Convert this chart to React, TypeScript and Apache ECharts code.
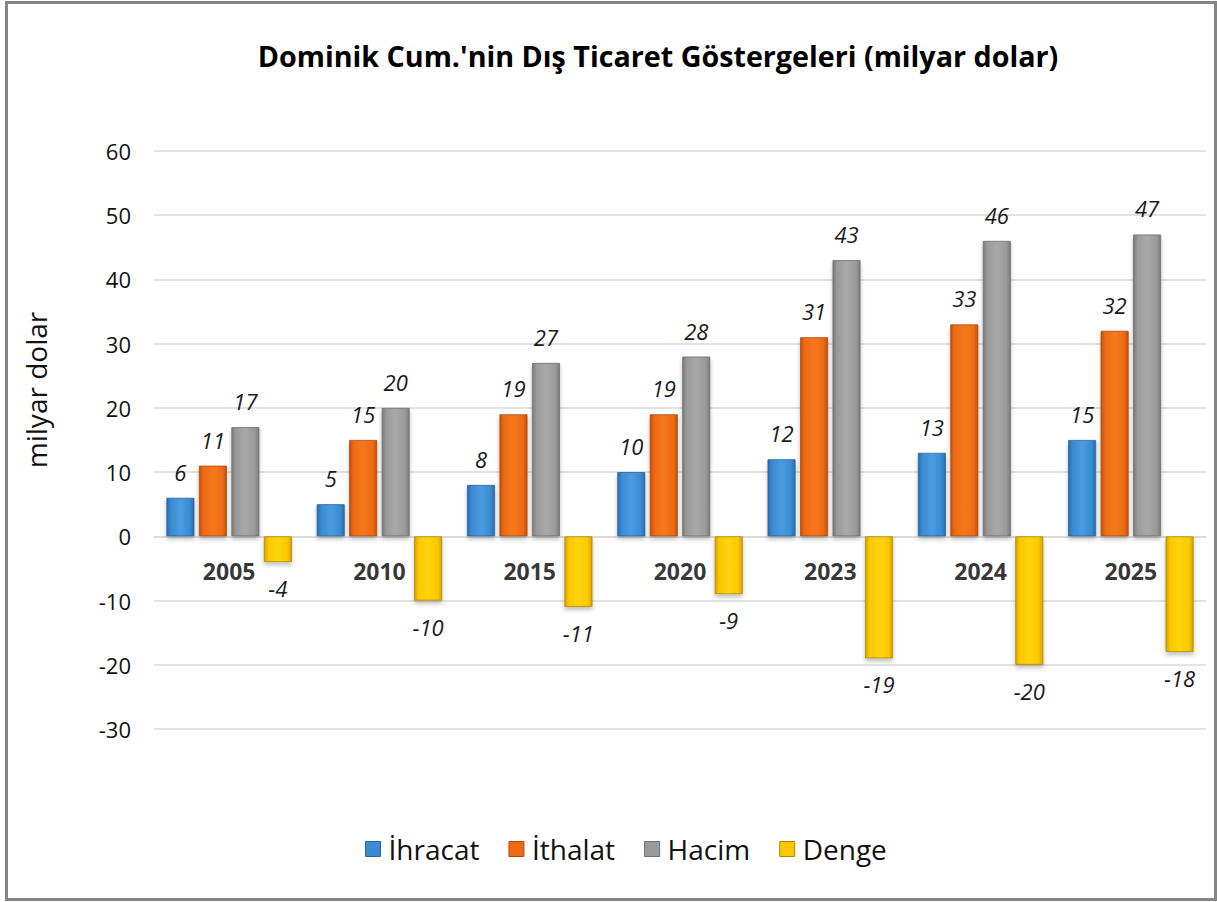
import React, { useEffect, useRef } from "react";
import * as echarts from "echarts";

const years = ["2005", "2010", "2015", "2020", "2023", "2024", "2025"];
const ihracat = [6, 5, 8, 10, 12, 13, 15];
const ithalat = [11, 15, 19, 19, 31, 33, 32];
const hacim = [17, 20, 27, 28, 43, 46, 47];
const denge = [-4, -10, -11, -9, -19, -20, -18];
const seriesNames = ["İhracat", "İthalat", "Hacim", "Denge"];
const yTicks = { min: -30, max: 60, interval: 10 };
const yAxisTitle = "milyar dolar";
const chartTitle = "Dominik Cum.'nin Dış Ticaret Göstergeleri (milyar dolar)";

const FONT = "'Open Sans', Lato, sans-serif";

function grad(edge: string, mid: string, light: string) {
  return new echarts.graphic.LinearGradient(0, 0, 1, 0, [
    { offset: 0, color: edge },
    { offset: 0.15, color: mid },
    { offset: 0.5, color: light },
    { offset: 0.85, color: mid },
    { offset: 1, color: edge },
  ]);
}

export default function App() {
  const ref = useRef<HTMLDivElement>(null);
  useEffect(() => {
    const chart = echarts.init(ref.current!, null, { renderer: "svg" });
    const palette = [
      { edge: "#2a6cae", mid: "#3a8bd2", light: "#4a9be0", border: "#2a65a0" },
      { edge: "#c0520c", mid: "#ee6a14", light: "#f5781e", border: "#b04a0a" },
      { edge: "#7a7a7a", mid: "#9a9a9a", light: "#a8a8a8", border: "#707070" },
      { edge: "#d4a200", mid: "#fbc800", light: "#ffd40a", border: "#b08800" },
    ];
    const data = [ihracat, ithalat, hacim, denge];
    const series: any[] = data.map((d, i) => ({
      name: seriesNames[i],
      type: "bar",
      data: d,
      barWidth: 28,
      barGap: "16%",
      itemStyle: {
        color: grad(palette[i].edge, palette[i].mid, palette[i].light),
        borderColor: palette[i].border,
        borderWidth: 0.8,
        shadowColor: "rgba(0,0,0,0.25)",
        shadowBlur: 4,
        shadowOffsetY: 3,
      },
      label: {
        show: true,
        position: i === 3 ? "bottom" : "top",
        distance: 15,
        fontFamily: FONT,
        fontStyle: "italic",
        fontSize: 22,
        color: "#1a1a1a",
      },
    }));
    // category labels sitting just under the zero line
    series.push({
      name: "categoryLabels",
      type: "scatter",
      data: years.map((y) => [y, 0]),
      symbolSize: 0.1,
      itemStyle: { color: "transparent" },
      silent: true,
      z: 5,
      label: {
        show: true,
        position: "bottom",
        distance: 23,
        formatter: (p: any) => p.value[0],
        fontFamily: FONT,
        fontWeight: "bold",
        fontSize: 23,
        color: "#000",
      },
    });
    chart.setOption({
      animation: false,
      backgroundColor: "#ffffff",
      title: {
        text: chartTitle,
        left: 653,
        textAlign: "center",
        top: 36,
        textStyle: { fontFamily: FONT, fontWeight: "bold", fontSize: 28.7, color: "#000" },
      },
      legend: {
        data: seriesNames.map((n, i) => ({
          name: n,
          itemStyle: { color: palette[i].mid, borderColor: palette[i].border, borderWidth: 1 },
        })),
        left: 360,
        top: 830,
        itemWidth: 15,
        itemHeight: 15,
        itemGap: 29,
        icon: "rect",
        textStyle: { fontFamily: FONT, fontSize: 28, color: "#111", padding: [0, 0, 0, 3] },
      },
      grid: { left: 154, right: 11, top: 151, bottom: 173 },
      xAxis: {
        type: "category",
        data: years,
        axisLine: { show: true, onZero: true, lineStyle: { color: "#d9d9d9", width: 1.5 } },
        axisTick: { show: false },
        axisLabel: { show: false },
      },
      yAxis: {
        type: "value",
        min: yTicks.min,
        max: yTicks.max,
        interval: yTicks.interval,
        axisLine: { show: false },
        axisTick: { show: false },
        axisLabel: { fontFamily: FONT, fontSize: 22, color: "#111", margin: 23 },
        splitLine: { lineStyle: { color: "#d9d9d9", width: 1.5 } },
      },
      series,
      graphic: [
        {
          type: "text",
          x: 36,
          y: 390,
          rotation: Math.PI / 2,
          style: {
            text: yAxisTitle,
            fontFamily: FONT,
            fontSize: 28,
            fill: "#111",
            align: "center",
            verticalAlign: "middle",
          },
          silent: true,
        },
        {
          type: "rect",
          shape: { x: 6.5, y: 2.5, width: 1209, height: 897 },
          style: { fill: "none", stroke: "#858585", lineWidth: 3 },
          silent: true,
        },
      ],
    });
    return () => chart.dispose();
  }, []);
  return (
    <div
      ref={ref}
      style={{ position: "fixed", left: 0, top: 0, width: 1217, height: 902 }}
    />
  );
}
